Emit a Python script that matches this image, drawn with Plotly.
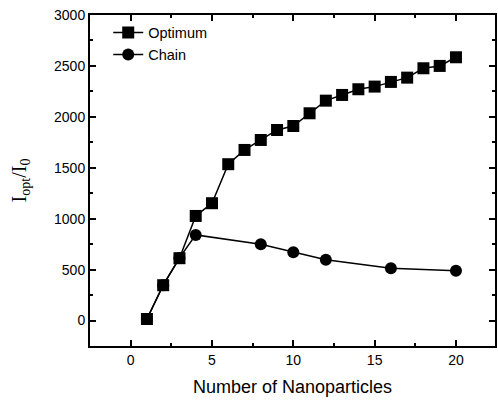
import plotly.graph_objects as go

opt_n = [1, 2, 3, 4, 5, 6, 7, 8, 9, 10, 11, 12, 13, 14, 15, 16, 17, 18, 19, 20]
opt_v = [15, 347, 612, 1027, 1152, 1535, 1675, 1773, 1871, 1910, 2035, 2159, 2215, 2271, 2297, 2343, 2385, 2477, 2500, 2585]
chain_n = [1, 2, 3, 4, 8, 10, 12, 16, 20]
chain_v = [15, 347, 615, 841, 750, 671, 596, 514, 488]

fig = go.Figure()
fig.add_trace(go.Scatter(x=chain_n, y=chain_v, name="Chain", mode="lines+markers",
                         line=dict(color="black", width=1.5),
                         marker=dict(symbol="circle", size=12, color="black")))
fig.add_trace(go.Scatter(x=opt_n, y=opt_v, name="Optimum", mode="lines+markers",
                         line=dict(color="black", width=1.5),
                         marker=dict(symbol="square", size=12, color="black")))

axis_common = dict(showline=True, linecolor="black", linewidth=2, mirror="ticks",
                   ticks="inside", ticklen=6, tickwidth=1.5, tickcolor="black",
                   showgrid=False, zeroline=False,
                   tickfont=dict(family="Liberation Sans, Arial", size=14, color="black"))

fig.update_xaxes(range=[-2.5, 22.4], tick0=0, dtick=5,
                 minor=dict(ticks="inside", ticklen=3, tickwidth=1.5, tickcolor="black", dtick=2.5),
                 title=dict(text="Number of Nanoparticles", standoff=14,
                            font=dict(family="Liberation Sans, Arial", size=18, color="black")),
                 **axis_common)
fig.update_yaxes(range=[-250, 3000], tick0=0, dtick=500,
                 minor=dict(ticks="inside", ticklen=3, tickwidth=1.5, tickcolor="black", dtick=250),
                 title=dict(text="I<sub>opt</sub>/I<sub>0</sub>", standoff=22,
                            font=dict(family="Liberation Serif, Times New Roman", size=20, color="black")),
                 **axis_common)

fig.update_layout(
    width=498, height=402,
    margin=dict(l=90, r=1, t=15, b=56),
    plot_bgcolor="white", paper_bgcolor="white",
    legend=dict(x=0.045, y=0.995, xanchor="left", yanchor="top", traceorder="reversed",
                font=dict(family="Liberation Sans, Arial", size=14.5, color="black"),
                bgcolor="rgba(0,0,0,0)", itemwidth=30, tracegroupgap=0),
    showlegend=True,
)

fig.write_html("out.html")
